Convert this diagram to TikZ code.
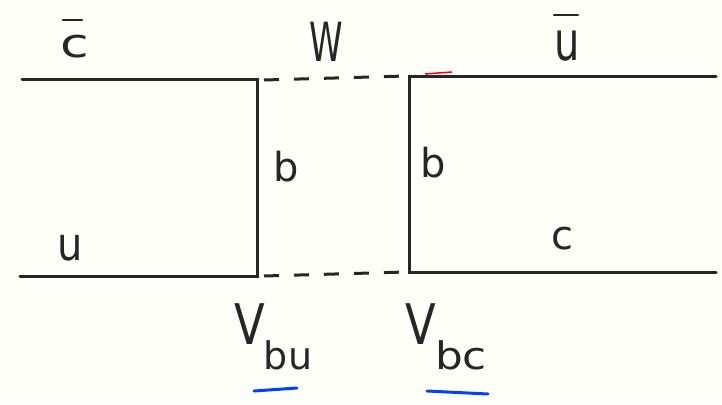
\documentclass[tikz,border=0pt]{standalone}
\usepackage{fontspec}
\setmainfont{DejaVu Sans}
\begin{document}
\begin{tikzpicture}[x=1pt,y=-1pt,
  quark/.style={line width=3pt,draw=black!85,line cap=round},
  boson/.style={line width=3pt,draw=black!85,dash pattern=on 15pt off 15pt},
  lbl/.style={inner sep=0pt,font=\fontsize{40}{40}\selectfont,text=black!85},
  sub/.style={inner sep=0pt,font=\fontsize{38}{38}\selectfont,text=black!85},
  ckm/.style={inner sep=0pt,font=\fontsize{56}{56}\selectfont,text=black!85},
  barline/.style={line width=2.6pt,draw=black!85,line cap=round},
  underl/.style={line width=3pt,draw=blue!75!cyan,line cap=round}]
  \fill[yellow!2] (0,0) rectangle (722,404);
  \useasboundingbox (0,0) rectangle (722,404);
  % corners of the box diagram
  \coordinate (tl) at (22,79);
  \coordinate (t1) at (257,79);
  \coordinate (t2) at (409,76);
  \coordinate (tr) at (716,76);
  \coordinate (bl) at (20,276);
  \coordinate (b1) at (257,276);
  \coordinate (b2) at (409,272);
  \coordinate (br) at (716,272);
  % quark lines
  \draw[quark] (tl) -- (t1) -- (b1) -- (bl);
  \draw[quark] (tr) -- (t2) -- (b2) -- (br);
  % W exchange
  \draw[boson] ([xshift=7pt,yshift=-1pt]t1) -- ([xshift=-3pt]t2);
  \draw[boson] ([xshift=7pt]b1) -- ([xshift=-3pt]b2);
  \draw[red,line width=1.5pt] (425,74) -- (452,72);
  % labels
  \node[lbl] (cbar) at (75,47) {\scalebox{1.3}[1]{c}};
  \draw[barline] (63,20) -- (82,20);
  \node[lbl] (w) at (326,42) {\scalebox{0.85}[1.35]{W}};
  \node[lbl] (ubar) at (567,46) {\scalebox{1}[1.35]{u}};
  \draw[barline] (554,15) -- (578,15);
  \node[lbl] (u) at (70,248) {\scalebox{1}[1.15]{u}};
  \node[lbl] (bl1) at (286,167) {b};
  \node[lbl] (bl2) at (433,163) {b};
  \node[lbl] (c) at (562,239) {c};
  \node[ckm] (vbu) at (250,324) {\scalebox{0.8}[1]{V}};
  \node[sub] (bu) at (288,355) {bu};
  \node[ckm] (vbc) at (421,324) {\scalebox{0.8}[1]{V}};
  \node[sub] (bc) at (461,355) {\scalebox{1.15}[1]{bc}};
  % underlines
  \coordinate (ua) at (254,391);
  \coordinate (ub) at (297,388);
  \coordinate (uc) at (427,391);
  \coordinate (ud) at (488,394);
  \draw[underl] (ua) -- (ub);
  \draw[underl] (uc) -- (ud);
\end{tikzpicture}
\end{document}
